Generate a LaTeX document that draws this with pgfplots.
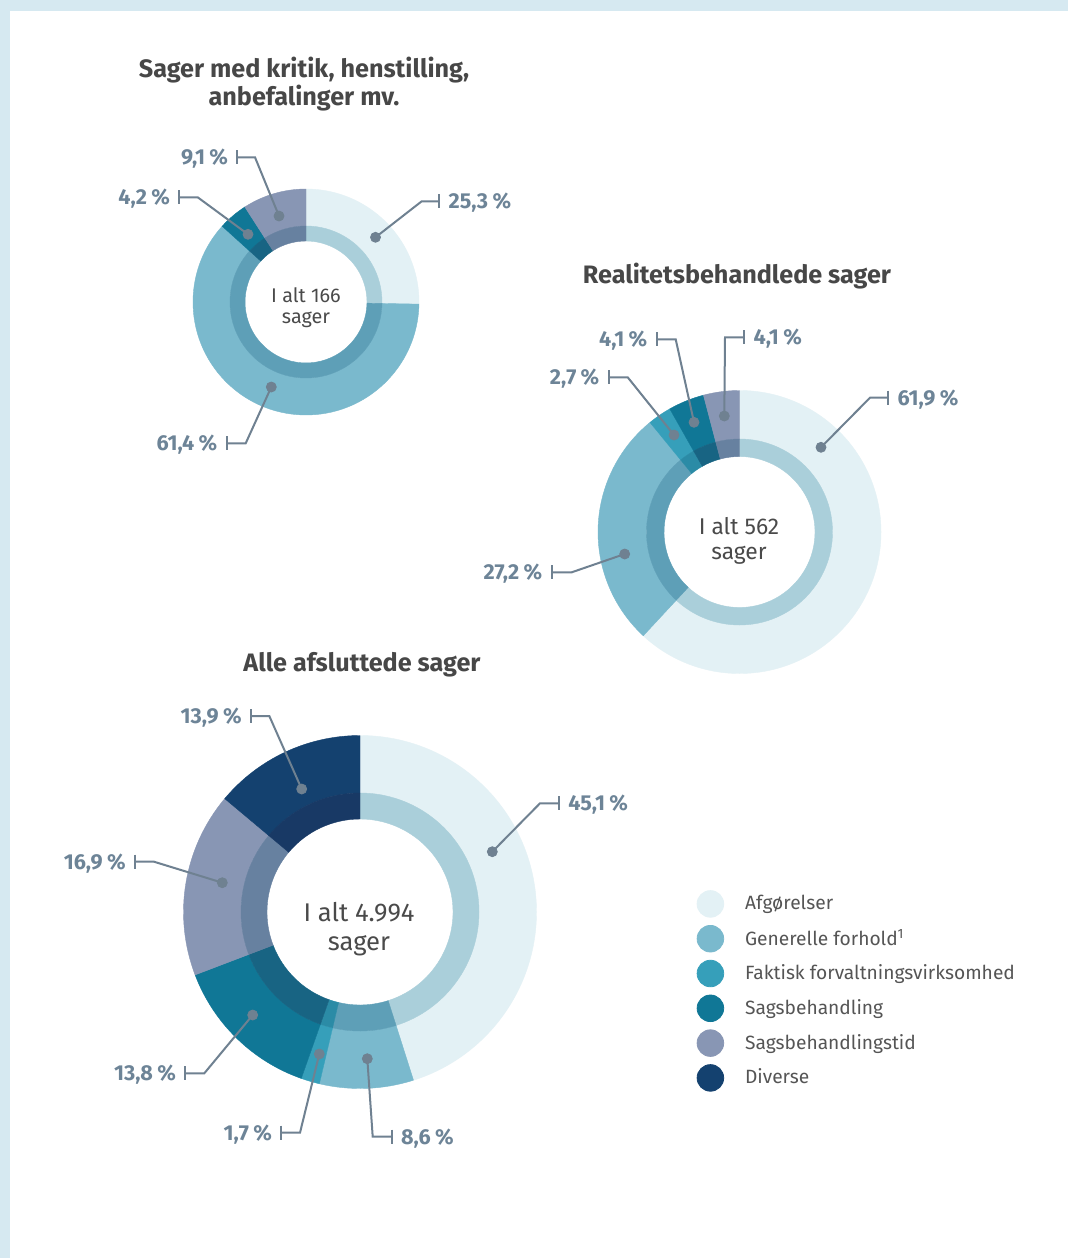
\documentclass[border=0pt]{standalone}
\usepackage{pgfplots}
\pgfplotsset{compat=1.18}
\usepackage{fontspec}
\setmainfont{Fira Sans}

\definecolor{strip}{HTML}{D6E9F1}
\definecolor{cAfg}{HTML}{E3F1F5}\definecolor{cAfgIn}{HTML}{AACFDA}
\definecolor{cGen}{HTML}{7AB9CD}\definecolor{cGenIn}{HTML}{5E9FB7}
\definecolor{cFak}{HTML}{369FBA}\definecolor{cFakIn}{HTML}{2B8BA6}
\definecolor{cSag}{HTML}{107796}\definecolor{cSagIn}{HTML}{186483}
\definecolor{cTid}{HTML}{8896B4}\definecolor{cTidIn}{HTML}{6781A0}
\definecolor{cDiv}{HTML}{14416F}\definecolor{cDivIn}{HTML}{183965}
\definecolor{labc}{HTML}{6D8497}
\definecolor{leadc}{HTML}{6F8191}
\definecolor{titlec}{HTML}{474747}
\definecolor{centc}{HTML}{4A4A4A}
\definecolor{legtext}{HTML}{555555}

\pgfkeys{/pgf/number format/assume math mode=true}

% running sum of the percentages of one donut
\newcommand\cum{0}
\newcommand\resetcum{\gdef\cum{0}}
% #1 cx, #2 cy, #3 hole radius, #4 band radius, #5 outer radius, #6 value (%), #7 colour
\newcommand\seg[7]{%
  \pgfmathsetmacro\sa{90-3.6*\cum}%
  \pgfmathsetmacro\sb{90-3.6*(\cum+#6)}%
  \pgfmathsetmacro\ncum{\cum+#6}\global\let\cum\ncum
  \pgfmathsetmacro\sbb{\sb+180}%
  \pgfmathsetmacro\ro{#5*0.5}\pgfmathsetmacro\rb{#4*0.5}\pgfmathsetmacro\rh{#3*0.5}%
  \pgfmathsetmacro\wo{(#5-#4)*0.5}\pgfmathsetmacro\wi{(#4-#3)*0.5}%
  \edef\tmp{%
    \noexpand\fill[#7, draw=#7, line width=0.2pt] (axis cs:#1,#2) ++(\sa:\ro pt) arc[start angle=\sa, end angle=\sb, radius=\ro pt] -- ++(\sbb:\wo pt) arc[start angle=\sb, end angle=\sa, radius=\rb pt] -- cycle;%
    \noexpand\fill[#7In, draw=#7In, line width=0.2pt] (axis cs:#1,#2) ++(\sa:\rb pt) arc[start angle=\sa, end angle=\sb, radius=\rb pt] -- ++(\sbb:\wi pt) arc[start angle=\sb, end angle=\sa, radius=\rh pt] -- cycle;%
  }\tmp}

\newcommand\pct[1]{\pgfmathprintnumber[fixed, fixed zerofill, precision=1, use comma]{#1}\hspace{0.2em}\%}
% #1 dot x, #2 dot y, #3 tick x, #4 line y, #5 elbow x
\newcommand\labcore[5]{%
  \pgfmathsetmacro\ya{#4-7}\pgfmathsetmacro\yb{#4+7}%
  \edef\tmp{%
    \noexpand\draw[leadc, line width=1pt] (axis cs:#1,#2) -- (axis cs:#5,#4) -- (axis cs:#3,#4);%
    \noexpand\draw[leadc, line width=1pt] (axis cs:#3,\ya) -- (axis cs:#3,\yb);%
    \noexpand\addplot[forget plot, only marks, mark=*, mark size=2.5pt, color=leadc] coordinates {(#1,#2)};%
  }\tmp}
\tikzset{lab/.style={font=\fontsize{10.8}{12}\selectfont\bfseries, text=labc, inner sep=0pt, text height=7.4pt, text depth=0pt}}
\newcommand\labL[6]{\labcore{#1}{#2}{#3}{#4}{#5}\pgfmathsetmacro\tx{#3-9}%
  \edef\tmp{\noexpand\node[lab, anchor=east] at (axis cs:\tx,#4) {\noexpand\pct{#6}};}\tmp}
\newcommand\labR[6]{\labcore{#1}{#2}{#3}{#4}{#5}\pgfmathsetmacro\tx{#3+9}%
  \edef\tmp{\noexpand\node[lab, anchor=west] at (axis cs:\tx,#4) {\noexpand\pct{#6}};}\tmp}

\begin{document}
\begin{tikzpicture}
\begin{axis}[
  width=534pt, height=629pt, scale only axis,
  xmin=0, xmax=1068, ymin=0, ymax=1258, y dir=reverse,
  hide axis, clip=false,
  legend style={at={(axis cs:696.7,890.2)}, anchor=north west, draw=none, fill=none,
    inner sep=0pt, outer sep=0pt,
    font=\fontsize{9.6}{11}\selectfont\color{legtext}, row sep=3.7pt, column sep=10.5pt,
    nodes={inner sep=0pt}},
  legend cell align=left,
  legend image code/.code={\fill[#1] (0pt,0pt) circle[radius=6.65pt];},
]
% background
\fill[white] (axis cs:0,0) rectangle (axis cs:1068,1258);
\fill[strip] (axis cs:0,0) rectangle (axis cs:10,1258);
\fill[strip] (axis cs:0,0) rectangle (axis cs:1068,11);

% ---- Donut 1: Sager med kritik, henstilling, anbefalinger mv. (I alt 166)
\resetcum
\seg{306}{302}{61}{76}{113}{25.3}{cAfg}
\seg{306}{302}{61}{76}{113}{61.4}{cGen}
\seg{306}{302}{61}{76}{113}{4.2}{cSag}
\seg{306}{302}{61}{76}{113}{9.1}{cTid}

% ---- Donut 2: Realitetsbehandlede sager (I alt 562)
\resetcum
\seg{739.5}{532}{75.5}{93}{141.5}{61.9}{cAfg}
\seg{739.5}{532}{75.5}{93}{141.5}{27.2}{cGen}
\seg{739.5}{532}{75.5}{93}{141.5}{2.7}{cFak}
\seg{739.5}{532}{75.5}{93}{141.5}{4.1}{cSag}
\seg{739.5}{532}{75.5}{93}{141.5}{4.1}{cTid}

% ---- Donut 3: Alle afsluttede sager (I alt 4.994)
\resetcum
\seg{360}{912}{93}{119}{176.5}{45.1}{cAfg}
\seg{360}{912}{93}{119}{176.5}{8.6}{cGen}
\seg{360}{912}{93}{119}{176.5}{1.7}{cFak}
\seg{360}{912}{93}{119}{176.5}{13.8}{cSag}
\seg{360}{912}{93}{119}{176.5}{16.9}{cTid}
\seg{360}{912}{93}{119}{176.5}{13.9}{cDiv}

% ---- labels with leaders
\labR{375.5}{237.3}{439.3}{201.3}{421.7}{25.3}
\labL{271.3}{387}{226.7}{443.3}{245.7}{61.4}
\labL{248}{234.3}{179.3}{197.3}{197.7}{4.2}
\labL{279}{216}{237.3}{157.3}{255}{9.1}

\labR{821}{447.3}{888.3}{397.7}{870}{61.9}
\labL{624.7}{554}{551.5}{572.3}{571.7}{27.2}
\labL{674}{435}{608.7}{377.3}{627.7}{2.7}
\labL{694}{422.3}{656.7}{339.3}{675.7}{4.1}
\labR{724.3}{416}{744.3}{337.3}{725}{4.1}

\labR{492.3}{851.7}{559}{803.3}{540}{45.1}
\labR{367.3}{1058.7}{391.7}{1136.7}{372.7}{8.6}
\labL{319.3}{1054}{281.3}{1132.7}{300}{1.7}
\labL{252.7}{1015}{185.3}{1073.3}{204.3}{13.8}
\labL{222.3}{882.7}{135}{861.7}{154}{16.9}
\labL{301.7}{789}{251}{716}{269.3}{13.9}

% ---- titles
\node[align=center, font=\fontsize{12.6}{13.6}\selectfont\bfseries, text=titlec] at (axis cs:304,84) {Sager med kritik, henstilling,\\anbefalinger mv.};
\node[font=\fontsize{12.6}{13.6}\selectfont\bfseries, text=titlec] at (axis cs:737,276) {Realitetsbehandlede sager};
\node[font=\fontsize{12.6}{13.6}\selectfont\bfseries, text=titlec] at (axis cs:362,665) {Alle afsluttede sager};

% ---- centre texts
\node[align=center, font=\fontsize{9.9}{10.6}\selectfont, text=centc] at (axis cs:306,308) {I alt 166\\sager};
\node[align=center, font=\fontsize{11.4}{12.8}\selectfont, text=centc] at (axis cs:739,541) {I alt 562\\sager};
\node[align=center, font=\fontsize{12.8}{14.4}\selectfont, text=centc] at (axis cs:359,929) {I alt 4.994\\sager};

% ---- legend
\addlegendimage{cAfg}\addlegendentry{Afgørelser}
\addlegendimage{cGen}\addlegendentry{Generelle forhold\textsuperscript{1}}
\addlegendimage{cFak}\addlegendentry{Faktisk forvaltningsvirksomhed}
\addlegendimage{cSag}\addlegendentry{Sagsbehandling}
\addlegendimage{cTid}\addlegendentry{Sagsbehandlingstid}
\addlegendimage{cDiv}\addlegendentry{Diverse}
\end{axis}
\end{tikzpicture}
\end{document}
